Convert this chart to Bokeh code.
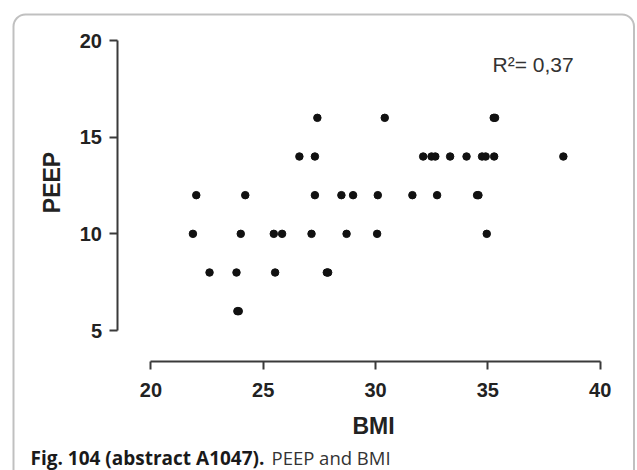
import math
from bokeh.plotting import figure
from bokeh.models import FixedTicker, Range1d, Label, BoxAnnotation, LinearAxis
from bokeh.embed import file_html
from bokeh.resources import INLINE

# ---- data ----
bmi = [27.41, 30.41, 35.26, 35.32,
       26.61, 27.30, 32.12, 32.49, 32.66, 33.32, 34.05, 34.74, 34.90, 35.28, 38.36,
       22.02, 24.20, 27.30, 28.48, 29.00, 30.10, 31.64, 32.74, 34.52, 34.58,
       21.87, 24.00, 25.47, 25.84, 27.15, 28.71, 30.07, 34.95,
       22.61, 23.81, 25.53, 27.83, 27.89,
       23.85, 23.91]
peep = [16, 16, 16, 16,
        14, 14, 14, 14, 14, 14, 14, 14, 14, 14, 14,
        12, 12, 12, 12, 12, 12, 12, 12, 12, 12,
        10, 10, 10, 10, 10, 10, 10, 10,
        8, 8, 8, 8, 8,
        6, 6]
x_ticks = [20, 25, 30, 35, 40]
y_ticks = [5, 10, 15, 20]
x_title = "BMI"
y_title = "PEEP"
r2_text = "R\u00b2= 0,37"
caption_bold = "Fig. 104 (abstract A1047)."
caption_normal = "PEEP and BMI"

# ---- layout (canvas pixels measured on the reference) ----
W, H = 637, 470
PX_X0, PX_X1 = 150.4, 599.7     # x of first / last x tick
PX_Y0, PX_Y1 = 40.0, 330.0      # y of top / bottom y tick
sx = (PX_X1 - PX_X0) / (x_ticks[-1] - x_ticks[0])
sy = (PX_Y1 - PX_Y0) / (y_ticks[-1] - y_ticks[0])


def dx(px):
    return x_ticks[0] + (px - PX_X0) / sx


def dy(py):
    return y_ticks[-1] - (py - PX_Y0) / sy


p = figure(width=W, height=H,
           x_range=Range1d(dx(0), dx(W)), y_range=Range1d(dy(H), dy(0)),
           x_axis_location=None, y_axis_location=None,
           output_backend="svg", toolbar_location=None,
           min_border=0, min_border_left=0, min_border_right=0,
           min_border_top=0, min_border_bottom=0,
           background_fill_color="white", border_fill_color="white",
           outline_line_color=None)
p.grid.visible = False

xaxis = LinearAxis(ticker=FixedTicker(ticks=x_ticks), bounds=(x_ticks[0], x_ticks[-1]),
                   fixed_location=dy(360.5))
yaxis = LinearAxis(ticker=FixedTicker(ticks=y_ticks), bounds=(y_ticks[0], y_ticks[-1]),
                   fixed_location=dx(116.5))
for ax in (xaxis, yaxis):
    ax.axis_line_width = 2
    ax.axis_line_color = "#3a3a3a"
    ax.major_tick_line_width = 2
    ax.major_tick_line_color = "#3a3a3a"
    ax.major_tick_in = 0
    ax.major_tick_out = 8
    ax.minor_tick_in = 0
    ax.minor_tick_out = 0
    ax.major_label_text_font = "Liberation Sans"
    ax.major_label_text_font_style = "bold"
    ax.major_label_text_font_size = "20px"
    ax.major_label_text_color = "#222222"
xaxis.major_label_standoff = 14
yaxis.major_label_standoff = 7
p.add_layout(xaxis, "below")
p.add_layout(yaxis, "left")

p.scatter(bmi, peep, size=7.5, color="#111111")

p.add_layout(Label(x=dx(492), y=dy(64), text=r2_text, text_baseline="middle",
                   text_font="Liberation Sans", text_font_size="21px",
                   text_color="#333333"))
p.add_layout(Label(x=dx(373), y=dy(425), text=x_title, text_align="center",
                   text_baseline="middle", text_font="Liberation Sans",
                   text_font_style="bold", text_font_size="23px", text_color="#222222"))
p.add_layout(Label(x=dx(51), y=dy(182), text=y_title, text_align="center",
                   text_baseline="middle", angle=math.pi / 2,
                   text_font="Liberation Sans", text_font_style="bold",
                   text_font_size="23px", text_color="#222222"))
p.add_layout(Label(x=dx(30), y=dy(457), text=caption_bold, text_baseline="middle",
                   text_font="Open Sans", text_font_style="bold",
                   text_font_size="19px", text_color="#1a1a1a"))
p.add_layout(Label(x=dx(271), y=dy(457), text=caption_normal, text_baseline="middle",
                   text_font="Open Sans", text_font_size="18.5px",
                   text_color="#333333"))

p.add_layout(BoxAnnotation(left=dx(13), right=dx(633.5), top=dy(14), bottom=dy(530),
                           fill_color=None, fill_alpha=0, line_color="#2e2e2e",
                           line_width=2, border_radius=12))

open("out.html", "w").write(file_html(p, INLINE))
